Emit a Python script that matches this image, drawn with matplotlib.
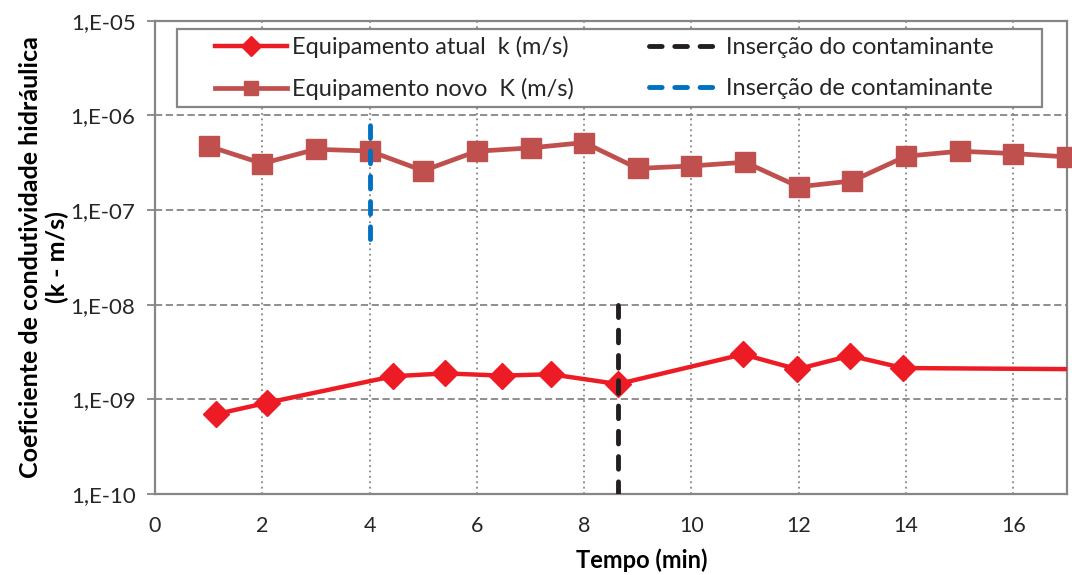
import numpy as np
import matplotlib.pyplot as plt
from matplotlib.ticker import FixedLocator, FuncFormatter, NullLocator
from matplotlib.patches import Rectangle

plt.rcParams['font.family'] = ['Lato', 'DejaVu Sans']

# Equipamento atual - k (m/s)
t_atual = [1.13, 2.09, 4.43, 5.41, 6.46, 7.38, 8.63, 10.96, 11.97, 12.96, 13.95, 19.0]
k_atual = [6.95e-10, 9.2e-10, 1.75e-9, 1.88e-9, 1.78e-9, 1.84e-9, 1.45e-9,
           2.99e-9, 2.08e-9, 2.89e-9, 2.14e-9, 2.05e-9]

# Equipamento novo - K (m/s)
t_novo = list(range(1, 18))
k_novo = [4.72e-7, 3.1e-7, 4.38e-7, 4.2e-7, 2.6e-7, 4.18e-7, 4.53e-7, 5.16e-7,
          2.75e-7, 2.92e-7, 3.2e-7, 1.76e-7, 2.03e-7, 3.7e-7, 4.18e-7, 3.95e-7, 3.64e-7]

# Inserção do contaminante (linhas verticais)
t_ins_atual = [8.63, 8.63]
k_ins_atual = [1e-10, 1e-8]
t_ins_novo = [4.0, 4.0]
k_ins_novo = [5e-8, 1e-6]

x_ticks = list(range(0, 17, 2))
y_ticks = [1e-10, 1e-9, 1e-8, 1e-7, 1e-6, 1e-5]

cinza = '#868686'
texto = '#262626'

fig = plt.figure(figsize=(10.72, 5.75), dpi=100)
ax = fig.add_axes([0.1446, 0.1409, 0.8507, 0.8231])

ax.plot(t_atual, k_atual, color='#ED1C24', lw=3.2, marker='D', ms=13.5,
        label='Equipamento atual  k (m/s)', zorder=3)
ax.plot(t_novo, k_novo, color='#C0504D', lw=3.4, marker='s', ms=14,
        label='Equipamento novo  K (m/s)', zorder=3, clip_on=False)
ax.plot(t_ins_atual, k_ins_atual, color='#231F20', lw=3.5, dashes=[2.6, 2.6],
        dash_capstyle='round', label='Inserção do contaminante', zorder=4)
ax.plot(t_ins_novo, k_ins_novo, color='#0070C0', lw=3.5, dashes=[2.6, 2.6],
        dash_capstyle='round', label='Inserção de contaminante', zorder=4)

ax.set_yscale('log')
ax.set_xlim(0, 17)
ax.set_ylim(1e-10, 1e-5)
ax.yaxis.set_major_locator(FixedLocator(y_ticks))
ax.yaxis.set_minor_locator(NullLocator())
ax.yaxis.set_major_formatter(FuncFormatter(lambda v, p: '1,E-%02d' % round(-np.log10(v))))
ax.set_xticks(x_ticks)

ax.grid(axis='y', color=cinza, lw=1.3, linestyle=(0, (4, 2)))
ax.grid(axis='x', color=cinza, lw=1.3, linestyle=(0, (1, 2)))
ax.set_axisbelow(True)
for s in ax.spines.values():
    s.set_color(cinza)
    s.set_linewidth(1.6)

ax.tick_params(axis='y', length=6, width=1.3, color=cinza, pad=8, labelsize=16, labelcolor=texto)
ax.tick_params(axis='x', length=0, pad=16, labelsize=15.5, labelcolor=texto)

ax.set_ylabel('Coeficiente de condutividade hidráulica\n(k - m/s)', fontsize=18,
              fontweight='bold', labelpad=1, linespacing=1.2)
ax.set_xlabel('Tempo (min)', fontsize=17, fontweight='bold')
ax.xaxis.set_label_coords(0.534, -0.115)

# moldura da legenda
ax.add_patch(Rectangle((0.024, 0.8177), 0.9486, 0.1648, transform=ax.transAxes,
                       facecolor='white', edgecolor=cinza, lw=1.6, zorder=5, clip_on=False))
leg = ax.legend(ncol=2, loc='upper left', bbox_to_anchor=(0.0658, 0.967), frameon=False,
                fontsize=17, handlelength=3.05, handletextpad=0.2, columnspacing=3.2,
                labelspacing=0.84, markerscale=0.75, borderpad=0, borderaxespad=0)
leg.set_zorder(6)
for t in leg.get_texts():
    t.set_color(texto)

plt.savefig('out.png', dpi=100)
